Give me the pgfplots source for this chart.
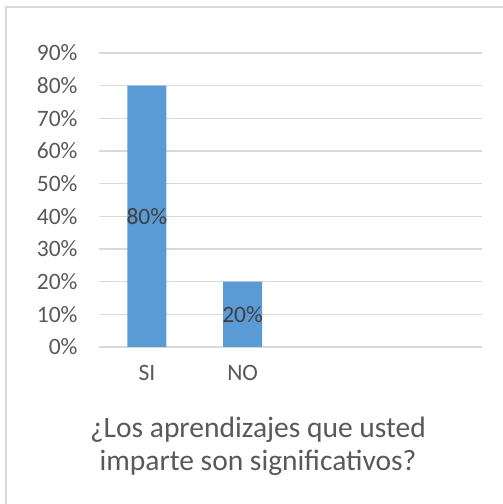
\documentclass[border=0pt]{standalone}
\usepackage{pgfplots}
\usepackage{pgfplotstable}
\pgfplotsset{compat=1.18}
\usepackage{fontspec}
\setmainfont{Carlito}
\definecolor{barblue}{HTML}{5B9BD5}
\definecolor{gridgray}{HTML}{D9D9D9}
\definecolor{ticktext}{HTML}{595959}
\definecolor{labeltext}{HTML}{404040}

\pgfplotstableread{
x y
0 80
1 20
}\datatable

\begin{document}
\begin{tikzpicture}
\useasboundingbox (0pt,0pt) rectangle (503pt,504pt);
\fill[white] (0pt,0pt) rectangle (503pt,504pt);
\draw[gridgray, line width=1.5pt] (6pt,-5pt) -- (6pt,497pt) -- (510pt,497pt);
\begin{axis}[
    at={(99pt,157pt)}, anchor=south west,
    scale only axis,
    width=383pt, height=294pt,
    xmin=-0.5, xmax=3.5,
    ymin=0, ymax=90,
    ytick={0,10,...,90},
    yticklabel={\pgfmathprintnumber{\tick}\%},
    xtick={0,1},
    xticklabels={SI,NO},
    axis line style={draw=none},
    major tick length=0pt,
    ymajorgrids,
    grid style={gridgray, line width=1.5pt},
    tick label style={font=\fontsize{23.5}{26}\selectfont, text=ticktext},
    yticklabel style={xshift=-18pt},
    xticklabel style={yshift=-15pt},
    /pgf/number format/assume math mode=true,
    clip=false,
]
\draw[gridgray, line width=1.5pt] (axis cs:-0.5,0) -- (axis cs:3.5,0);
\addplot[ybar, bar width=39pt, fill=barblue, draw=none] table[x=x, y=y] {\datatable};
\addplot[draw=none, mark=none, point meta=explicit,
    nodes near coords={\pgfmathprintnumber{\pgfplotspointmeta}\%},
    nodes near coords style={font=\fontsize{23.5}{26}\selectfont, text=labeltext, anchor=center, /pgf/number format/assume math mode=true},
] table[x=x, y expr=\thisrow{y}/2, meta=y] {\datatable};
\end{axis}
\node[font=\fontsize{29.5}{33}\selectfont, text=ticktext, align=center, anchor=center] at (258pt,58pt) {¿Los aprendizajes que usted\\imparte son significativos?};
\end{tikzpicture}
\end{document}
